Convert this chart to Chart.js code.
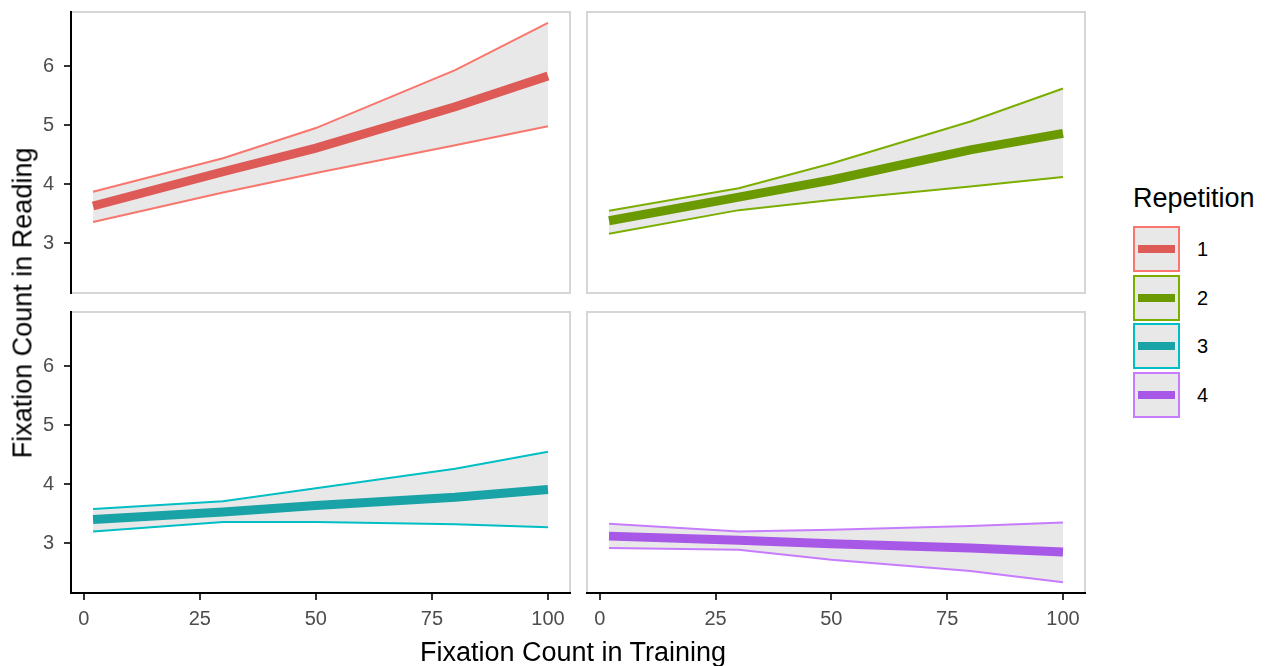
<!DOCTYPE html>
<html>
<head>
<meta charset="utf-8">
<script src="https://cdn.jsdelivr.net/npm/chart.js@4"></script>
<style>
  body { margin: 0; background: #fff; font-family: "Liberation Sans", Arial, sans-serif; }
  #wrap { position: relative; width: 1277px; height: 666px; overflow: hidden; }
  canvas { position: absolute; }
  .txt { position: absolute; white-space: nowrap; color: #000; }
  .key { position: absolute; box-sizing: border-box; width: 47px; height: 46px; background: #E8E8E8; border: 2px solid; }
  .key div { position: absolute; left: 3px; right: 3px; top: 50%; height: 8px; margin-top: -4px; }
</style>
</head>
<body>
<div id="wrap"></div>
<script>
// x positions of the fitted curves
const xTraining = [2, 30, 50, 80, 100];

// Repetition 1..4: fitted mean and ribbon bounds
const rep1Mean  = [3.63, 4.21, 4.61, 5.31, 5.83];
const rep1Upper = [3.87, 4.44, 4.95, 5.93, 6.73];
const rep1Lower = [3.36, 3.86, 4.19, 4.66, 4.98];

const rep2Mean  = [3.38, 3.78, 4.07, 4.58, 4.86];
const rep2Upper = [3.55, 3.93, 4.35, 5.06, 5.62];
const rep2Lower = [3.16, 3.56, 3.73, 3.96, 4.12];

const rep3Mean  = [3.40, 3.53, 3.64, 3.78, 3.91];
const rep3Upper = [3.58, 3.71, 3.93, 4.26, 4.55];
const rep3Lower = [3.20, 3.36, 3.36, 3.32, 3.27];

const rep4Mean  = [3.12, 3.05, 2.99, 2.92, 2.85];
const rep4Upper = [3.33, 3.20, 3.23, 3.29, 3.35];
const rep4Lower = [2.92, 2.89, 2.72, 2.53, 2.34];

const xTicks = [0, 25, 50, 75, 100];
const yTicks = [3, 4, 5, 6];
const repLabels = ['1', '2', '3', '4'];

const lineColors = ['#F8766D', '#7CAE00', '#00BFC4', '#C77CFF'];
const meanColors = ['#DE5A56', '#6A9A00', '#19A3A6', '#A858E6'];
const ribbonColor = '#E8E8E8';
const FONT = '"Liberation Sans", Arial, sans-serif';

const wrap = document.getElementById('wrap');

// grey panel frame, drawn before axes so the black axis lines sit on top
const panelBorder = {
  id: 'panelBorder',
  beforeDraw(chart) {
    const { ctx, chartArea: a } = chart;
    ctx.save();
    ctx.strokeStyle = '#D6D6D6';
    ctx.lineWidth = 2;
    ctx.strokeRect(a.left, a.top, a.right - a.left, a.bottom - a.top);
    ctx.restore();
  }
};

function pts(ys) {
  return xTraining.map((x, i) => ({ x: x, y: ys[i] }));
}

function makePanel(rect, showY, showX, mean, upper, lower, idx) {
  const L = showY ? 71 : 4;
  const B = showX ? 50 : 4;
  const canvas = document.createElement('canvas');
  canvas.width = rect.w + L + 4;
  canvas.height = rect.h + 4 + B;
  canvas.style.left = (rect.x - L) + 'px';
  canvas.style.top = (rect.y - 4) + 'px';
  wrap.appendChild(canvas);

  const noPad = ax => { ax.paddingTop = 0; ax.paddingBottom = 0; ax.paddingLeft = 0; ax.paddingRight = 0; };

  new Chart(canvas.getContext('2d'), {
    type: 'line',
    data: {
      datasets: [
        { data: pts(mean), borderColor: meanColors[idx], borderWidth: 9, borderCapStyle: 'butt', fill: false },
        { data: pts(upper), borderColor: lineColors[idx], borderWidth: 2, fill: '+1', backgroundColor: ribbonColor },
        { data: pts(lower), borderColor: lineColors[idx], borderWidth: 2, fill: false }
      ]
    },
    options: {
      responsive: false,
      animation: false,
      events: [],
      layout: { padding: { left: showY ? 0 : 4, top: 4, right: 4, bottom: showX ? 0 : 4 } },
      elements: { point: { radius: 0 }, line: { tension: 0 } },
      plugins: {
        legend: { display: false },
        tooltip: { enabled: false },
        filler: { drawTime: 'beforeDatasetsDraw' }
      },
      scales: {
        x: {
          type: 'linear',
          min: -2.75,
          max: 104.75,
          display: showX,
          afterBuildTicks: ax => { ax.ticks = xTicks.map(v => ({ value: v })); },
          afterFit: ax => { if (showX) { ax.height = 50; noPad(ax); } },
          ticks: { color: '#4D4D4D', font: { size: 20, family: FONT }, padding: 7, maxRotation: 0, autoSkip: false },
          grid: { drawOnChartArea: false, drawTicks: true, tickLength: 7, color: '#333333', lineWidth: 2 },
          border: { display: true, color: '#000000', width: 2 }
        },
        y: {
          type: 'linear',
          min: 2.157,
          max: 6.915,
          display: showY,
          afterBuildTicks: ax => { ax.ticks = yTicks.map(v => ({ value: v })); },
          afterFit: ax => { if (showY) { ax.width = 71; noPad(ax); } },
          ticks: { color: '#4D4D4D', font: { size: 20, family: FONT }, padding: 10 },
          grid: { drawOnChartArea: false, drawTicks: true, tickLength: 7, color: '#333333', lineWidth: 2 },
          border: { display: true, color: '#000000', width: 2 }
        }
      }
    },
    plugins: [panelBorder]
  });
}

makePanel({ x: 71,  y: 12,  w: 499, h: 281 }, true,  false, rep1Mean, rep1Upper, rep1Lower, 0);
makePanel({ x: 587, y: 12,  w: 498, h: 281 }, false, false, rep2Mean, rep2Upper, rep2Lower, 1);
makePanel({ x: 71,  y: 312, w: 499, h: 281 }, true,  true,  rep3Mean, rep3Upper, rep3Lower, 2);
makePanel({ x: 587, y: 312, w: 498, h: 281 }, false, true,  rep4Mean, rep4Upper, rep4Lower, 3);

// axis titles
const xTitle = document.createElement('div');
xTitle.className = 'txt';
xTitle.textContent = 'Fixation Count in Training';
xTitle.style.cssText += 'font-size:27px;line-height:27px;left:573px;top:639px;transform:translateX(-50%);';
wrap.appendChild(xTitle);

const yTitle = document.createElement('div');
yTitle.className = 'txt';
yTitle.textContent = 'Fixation Count in Reading';
yTitle.style.cssText += 'font-size:27px;line-height:27px;left:23px;top:303px;transform:translate(-50%,-50%) rotate(-90deg);';
wrap.appendChild(yTitle);

// legend
const legTitle = document.createElement('div');
legTitle.className = 'txt';
legTitle.textContent = 'Repetition';
legTitle.style.cssText += 'font-size:27px;line-height:27px;left:1133px;top:185px;';
wrap.appendChild(legTitle);

const keyTops = [226, 274.5, 323, 371.5];
repLabels.forEach((lab, i) => {
  const key = document.createElement('div');
  key.className = 'key';
  key.style.left = '1133px';
  key.style.top = keyTops[i] + 'px';
  key.style.borderColor = lineColors[i];
  const bar = document.createElement('div');
  bar.style.background = meanColors[i];
  key.appendChild(bar);
  wrap.appendChild(key);

  const t = document.createElement('div');
  t.className = 'txt';
  t.textContent = lab;
  t.style.cssText += 'font-size:20px;line-height:20px;left:1197px;top:' + (keyTops[i] + 13) + 'px;';
  wrap.appendChild(t);
});
</script>
</body>
</html>
